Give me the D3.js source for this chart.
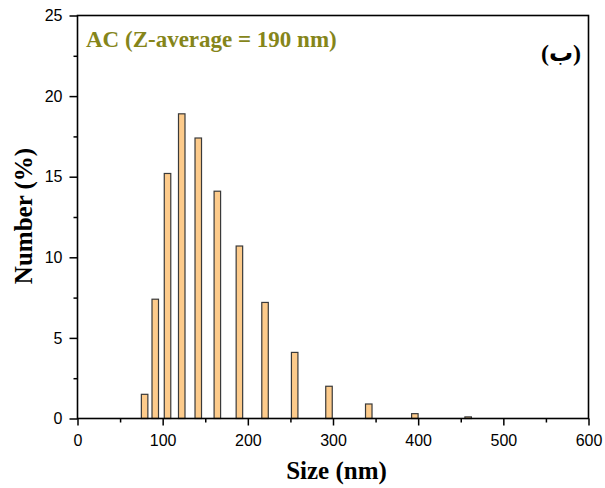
<!DOCTYPE html>
<html>
<head>
<meta charset="utf-8">
<script src="https://cdn.jsdelivr.net/npm/d3@7"></script>
<style>
  body { margin: 0; background: #fff; }
  svg text { fill: #000; }
</style>
</head>
<body>
<div id="chart"></div>
<script>
// bin centres (nm) and number (%)
let sizes = [78.8, 91.3, 105.7, 122.4, 141.8, 164.2, 190.1, 220.2, 255.0, 295.3, 342.0, 396.1, 458.7]
let numbers = [1.5, 7.4, 15.2, 18.9, 17.4, 14.1, 10.7, 7.2, 4.1, 2.0, 0.9, 0.3, 0.1]
let xTicks = [0, 100, 200, 300, 400, 500, 600]
let yTicks = [0, 5, 10, 15, 20, 25]
let xMinor = [50, 150, 250, 350, 450, 550]
let yMinor = [2.5, 7.5, 12.5, 17.5, 22.5]

let width = 605
let height = 488
let padLeft = 77.5, padRight = 588.5, padTop = 15.5, padBottom = 418.5

let svg = d3.select('#chart').append('svg')
  .attr('width', width)
  .attr('height', height)

let x = d3.scaleLinear().domain([0, 600]).range([padLeft, padRight])
let y = d3.scaleLinear().domain([0, 25]).range([padBottom, padTop])

// bars
let barW = 6.5
svg.selectAll('rect.bar')
  .data(sizes)
  .enter().append('rect')
  .attr('class', 'bar')
  .attr('x', (d) => x(d) - barW / 2)
  .attr('width', barW)
  .attr('y', (d, i) => y(numbers[i]))
  .attr('height', (d, i) => y(0) - y(numbers[i]))
  .attr('fill', '#fdcb8b')
  .attr('stroke', '#3a3a3a')
  .attr('stroke-width', 1.2)

// axes
svg.append('g')
  .attr('transform', 'translate(0,' + padBottom + ')')
  .call(d3.axisBottom(x).tickValues(xTicks).tickSize(7).tickPadding(9))
svg.append('g')
  .attr('transform', 'translate(0,' + padBottom + ')')
  .call(d3.axisBottom(x).tickValues(xMinor).tickSize(4).tickFormat(''))
svg.append('g')
  .attr('transform', 'translate(' + padLeft + ',0)')
  .call(d3.axisLeft(y).tickValues(yTicks).tickSize(8).tickPadding(7))
svg.append('g')
  .attr('transform', 'translate(' + padLeft + ',0)')
  .call(d3.axisLeft(y).tickValues(yMinor).tickSize(4).tickFormat(''))

svg.selectAll('.domain').remove()
svg.selectAll('.tick line').attr('stroke', '#000').attr('stroke-width', 1.5)
svg.selectAll('.tick text')
  .attr('font-family', 'Liberation Sans, Arial, sans-serif')
  .attr('font-size', 16)
  .attr('fill', '#000')

// frame
svg.append('rect')
  .attr('x', padLeft)
  .attr('y', padTop)
  .attr('width', padRight - padLeft)
  .attr('height', padBottom - padTop)
  .attr('fill', 'none')
  .attr('stroke', '#000')
  .attr('stroke-width', 1.6)

// labels
svg.append('text')
  .attr('x', 86)
  .attr('y', 46.5)
  .attr('font-family', 'Liberation Serif, Times New Roman, serif')
  .attr('font-weight', 'bold')
  .attr('font-size', 23)
  .style('fill', '#85851a')
  .text('AC (Z-average = 190 nm)')

svg.append('text')
  .attr('x', 581)
  .attr('y', 61)
  .attr('text-anchor', 'end')
  .attr('font-family', 'Liberation Serif, DejaVu Sans, serif')
  .attr('font-weight', 'bold')
  .attr('font-size', 24)
  .text('(ب)')

svg.append('text')
  .attr('text-anchor', 'middle')
  .attr('transform', 'translate(' + (32) + ',' + 216 + ')rotate(-90)')
  .attr('font-family', 'Liberation Serif, Times New Roman, serif')
  .attr('font-weight', 'bold')
  .attr('font-size', 25)
  .text('Number (%)')

svg.append('text')
  .attr('text-anchor', 'middle')
  .attr('x', 336.5)
  .attr('y', 479)
  .attr('font-family', 'Liberation Serif, Times New Roman, serif')
  .attr('font-weight', 'bold')
  .attr('font-size', 25)
  .text('Size (nm)')
</script>
</body>
</html>
